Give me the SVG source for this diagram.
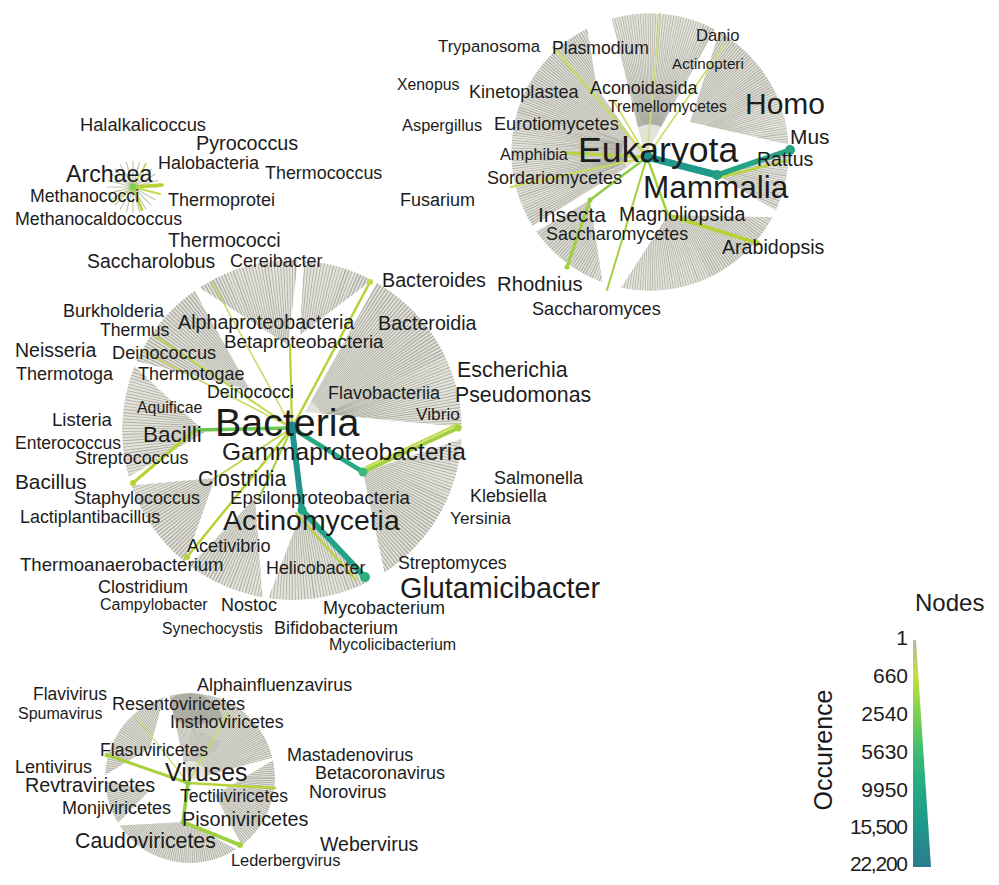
<svg xmlns="http://www.w3.org/2000/svg" width="999" height="885" viewBox="0 0 999 885">
<style>
text{font-family:"Liberation Sans",Arial,sans-serif;fill:#1c1c1c}
.fanfill{fill:#e3e3db}
.tex{fill:none;stroke:#adada3;stroke-dasharray:1.3 1.7}
.e{stroke-linecap:round;fill:none}
.sp{stroke:#c3c6ae;stroke-width:1.2;fill:none}
</style>
<defs>
<clipPath id="cB">
<path d="M250 390L136.7 360.9A170 170 0 0 1 194.5 290.7Z"/>
<path d="M288 345L199.4 287.4A170 170 0 0 1 297.9 260.1Z"/>
<path d="M300 335L303.9 260.4A170 170 0 0 1 371.8 279.9Z"/>
<path d="M305 412L377 282.8A170 170 0 0 1 462 427Z"/>
<path d="M363 472L461.8 438.9A170 170 0 0 1 384.6 572.6Z"/>
<path d="M302 510L369.2 581.5A170 170 0 0 1 268.3 598.4Z"/>
<path d="M255 498L262.5 597.4A170 170 0 0 1 189.7 565.8Z"/>
<path d="M215 478L185 562.1A170 170 0 0 1 131.3 485.4Z"/>
<path d="M205 432L128.6 476.9A170 170 0 0 1 134.4 366.3Z"/>
</clipPath>
<clipPath id="cE">
<path d="M645 156L511 152A139 139 0 0 1 564.4 42.5Z"/>
<path d="M600 108L564.4 42.5A139 139 0 0 1 587.2 28.2Z"/>
<path d="M645 156L611.7 18.4A139 139 0 0 1 715.3 29.3Z"/>
<path d="M690 122L719.5 31.6A139 139 0 0 1 788.8 144.7Z"/>
<path d="M717 175L789 152A139 139 0 0 1 776 210.7Z"/>
<path d="M668 215L772.7 217.3A139 139 0 0 1 620.8 288.0Z"/>
<path d="M590 200L602.5 282.6A139 139 0 0 1 536.1 231.7Z"/>
<path d="M645 156L532.1 225.7A139 139 0 0 1 511 152Z"/>
</clipPath>
<clipPath id="cV">
<path d="M150 748L105 775A85 85 0 0 1 163.7 697.2Z"/>
<path d="M188 781L169.4 695.5A85 85 0 0 1 272.5 757.4Z"/>
<path d="M215 795L273.1 760.3A85 85 0 0 1 242.0 845.4Z"/>
<path d="M185 822L236.3 849.2A85 85 0 0 1 119.1 825.5Z"/>
<path d="M150 790L117.9 823A85 85 0 0 1 105.1 781Z"/>
</clipPath>
<linearGradient id="leg" x1="0" y1="640" x2="0" y2="867" gradientUnits="userSpaceOnUse">
<stop offset="0" stop-color="#b8b8aa"/>
<stop offset="0.16" stop-color="#c6de3a"/>
<stop offset="0.33" stop-color="#7ad151"/>
<stop offset="0.5" stop-color="#3cbb75"/>
<stop offset="0.67" stop-color="#22a884"/>
<stop offset="0.83" stop-color="#1f968b"/>
<stop offset="1" stop-color="#2a7b8e"/>
</linearGradient>
</defs>
<g id="connectors">
<g id="fans-bacteria" clip-path="url(#cB)">
<circle class="fanfill" cx="292" cy="430" r="170"/>
<circle class="tex" cx="292" cy="430" r="102" stroke-width="136" pathLength="1000"/>
</g>
<g id="fans-eukaryota" clip-path="url(#cE)">
<circle class="fanfill" cx="650" cy="152" r="139"/>
<circle class="tex" cx="650" cy="152" r="83" stroke-width="111" pathLength="1000"/>
</g>
<g id="fans-viruses" clip-path="url(#cV)">
<circle class="fanfill" cx="190" cy="778" r="85"/>
<circle class="tex" cx="190" cy="778" r="51" stroke-width="68" pathLength="700"/>
</g>
<path class="sp" d="M133 187L159 187M133 187L158.1 193.7M133 187L155.5 200M133 187L151.4 205.4M133 187L146 209.5M133 187L139.7 212.1M133 187L133 213M133 187L126.3 212.1M133 187L120 209.5M133 187L114.6 205.4M133 187L110.5 200M133 187L107.9 193.7M133 187L107 187M133 187L107.9 180.3M133 187L110.5 174M133 187L114.6 168.6M133 187L120 164.5M133 187L126.3 161.9M133 187L133 161M133 187L139.7 161.9M133 187L146 164.5M133 187L151.4 168.6M133 187L155.5 174M133 187L158.1 180.3"/>
<line class="e" x1="133" y1="187" x2="162" y2="185" stroke="#b5d335" stroke-width="3.5"/>
<line class="e" x1="133" y1="187" x2="160" y2="194" stroke="#c2da4c" stroke-width="2"/>
<line class="e" x1="133" y1="187" x2="142" y2="210" stroke="#b5d335" stroke-width="2.5"/>
<line class="e" x1="133" y1="187" x2="112" y2="203" stroke="#c9dc5a" stroke-width="1.5"/>
<line class="e" x1="133" y1="187" x2="146" y2="163" stroke="#c9dc5a" stroke-width="1.5"/>
<line class="e" x1="647" y1="157" x2="660" y2="13" stroke="#d2df78" stroke-width="1.5"/>
<line class="e" x1="647" y1="157" x2="724" y2="45" stroke="#cbdc60" stroke-width="1.5"/>
<line class="e" x1="647" y1="157" x2="613" y2="100" stroke="#cbdc60" stroke-width="1.5"/>
<line class="e" x1="647" y1="157" x2="553" y2="47" stroke="#c9dc5a" stroke-width="2"/>
<line class="e" x1="647" y1="157" x2="511" y2="187" stroke="#c9dc5a" stroke-width="2"/>
<line class="e" x1="647" y1="157" x2="567" y2="153" stroke="#b8d440" stroke-width="3"/>
<line class="e" x1="647" y1="157" x2="607" y2="290" stroke="#a5d23a" stroke-width="2"/>
<line class="e" x1="647" y1="157" x2="590" y2="200" stroke="#8ccd45" stroke-width="2.5"/>
<line class="e" x1="590" y1="200" x2="567" y2="267" stroke="#a0d040" stroke-width="3"/>
<line class="e" x1="647" y1="157" x2="668" y2="215" stroke="#a6d23c" stroke-width="2.5"/>
<line class="e" x1="668" y1="215" x2="757" y2="243" stroke="#b5d335" stroke-width="3.5"/>
<line class="e" x1="717" y1="178" x2="789" y2="160" stroke="#b9d53a" stroke-width="2.5"/>
<line class="e" x1="647" y1="157" x2="717" y2="175" stroke="#1f9a8a" stroke-width="7"/>
<line class="e" x1="717" y1="175" x2="790" y2="150" stroke="#26a284" stroke-width="5.5"/>
<line class="e" x1="292" y1="428" x2="212" y2="282" stroke="#cad95c" stroke-width="1.5"/>
<line class="e" x1="292" y1="428" x2="157" y2="337" stroke="#c0d84a" stroke-width="2"/>
<line class="e" x1="292" y1="428" x2="145" y2="352" stroke="#cad95c" stroke-width="1.5"/>
<line class="e" x1="292" y1="428" x2="290" y2="345" stroke="#b5d335" stroke-width="2.2"/>
<line class="e" x1="292" y1="428" x2="370" y2="282" stroke="#b5d335" stroke-width="2.5"/>
<line class="e" x1="292" y1="428" x2="187" y2="557" stroke="#b5d335" stroke-width="2.5"/>
<line class="e" x1="292" y1="428" x2="258" y2="500" stroke="#a6d23c" stroke-width="2"/>
<line class="e" x1="292" y1="428" x2="215" y2="478" stroke="#c0d84a" stroke-width="2"/>
<line class="e" x1="195" y1="430" x2="133" y2="483" stroke="#b5d335" stroke-width="3"/>
<line class="e" x1="292" y1="428" x2="195" y2="430" stroke="#6cc64e" stroke-width="3.5"/>
<line class="e" x1="366" y1="467" x2="458" y2="424" stroke="#c2da4c" stroke-width="2"/>
<line class="e" x1="363" y1="472" x2="458" y2="428" stroke="#a3d13e" stroke-width="4"/>
<line class="e" x1="296" y1="513" x2="356" y2="580" stroke="#b5d335" stroke-width="2"/>
<line class="e" x1="292" y1="428" x2="363" y2="472" stroke="#27a884" stroke-width="4.5"/>
<line class="e" x1="302" y1="510" x2="365" y2="577" stroke="#22a386" stroke-width="5.5"/>
<line class="e" x1="292" y1="428" x2="302" y2="510" stroke="#1f968b" stroke-width="6"/>
<line class="e" x1="188" y1="783" x2="228" y2="713" stroke="#cbdc60" stroke-width="1.5"/>
<line class="e" x1="188" y1="783" x2="135" y2="715" stroke="#cbdc60" stroke-width="1.2"/>
<line class="e" x1="188" y1="783" x2="107" y2="755" stroke="#a8d23c" stroke-width="3"/>
<line class="e" x1="188" y1="783" x2="275" y2="788" stroke="#b5d335" stroke-width="2.5"/>
<line class="e" x1="183" y1="822" x2="240" y2="845" stroke="#9fd040" stroke-width="4"/>
<line class="e" x1="188" y1="783" x2="183" y2="822" stroke="#8ccd45" stroke-width="3.5"/>
</g>
<g id="node-dots">
<circle cx="133" cy="187" r="3.5" fill="#7ccf52"/>
<circle cx="757" cy="243" r="3" fill="#b5d335"/>
<circle cx="590" cy="200" r="2.5" fill="#8ccd45"/>
<circle cx="567" cy="267" r="2.5" fill="#a0d040"/>
<circle cx="370" cy="282" r="3" fill="#c0da4a"/>
<circle cx="133" cy="483" r="3" fill="#b5d335"/>
<circle cx="187" cy="557" r="3" fill="#b5d335"/>
<circle cx="458" cy="428" r="3.5" fill="#a8d23c"/>
<circle cx="363" cy="472" r="4.5" fill="#3bb77a"/>
<circle cx="302" cy="510" r="4.5" fill="#20a386"/>
<circle cx="365" cy="577" r="5" fill="#2bb07f"/>
<circle cx="107" cy="755" r="2.5" fill="#a8d23c"/>
<circle cx="240" cy="845" r="3" fill="#a8d23c"/>
<circle cx="183" cy="822" r="2.5" fill="#8ccd45"/>
</g>
<g id="Eukaryota"><circle cx="647" cy="157" r="6" fill="#1f8f8c"/><text x="578" y="162" font-size="35.6">Eukaryota</text></g>
<g id="Mammalia"><circle cx="717" cy="175" r="5" fill="#22a084"/><text x="643" y="198" font-size="31.5">Mammalia</text></g>
<g id="Mus"><circle cx="790" cy="150" r="5" fill="#27a383"/><text x="790" y="144" font-size="20.9">Mus</text></g>
<g id="Trypanosoma"><text x="438" y="52" font-size="16.8">Trypanosoma</text></g>
<g id="Plasmodium"><text x="552" y="54" font-size="17.6">Plasmodium</text></g>
<g id="Danio"><text x="696" y="41" font-size="16.6">Danio</text></g>
<g id="Actinopteri"><text x="672" y="69" font-size="15.2">Actinopteri</text></g>
<g id="Xenopus"><text x="397" y="90" font-size="15.8">Xenopus</text></g>
<g id="Kinetoplastea"><text x="469" y="98" font-size="18.1">Kinetoplastea</text></g>
<g id="Aconoidasida"><text x="590" y="94" font-size="17.9">Aconoidasida</text></g>
<g id="Tremellomycetes"><text x="608" y="112" font-size="15.7">Tremellomycetes</text></g>
<g id="Homo"><text x="745" y="114" font-size="30">Homo</text></g>
<g id="Aspergillus"><text x="402" y="131" font-size="16.4">Aspergillus</text></g>
<g id="Eurotiomycetes"><text x="494" y="130" font-size="18.1">Eurotiomycetes</text></g>
<g id="Amphibia"><text x="500" y="160" font-size="16.3">Amphibia</text></g>
<g id="Rattus"><text x="757" y="166" font-size="19.5">Rattus</text></g>
<g id="Sordariomycetes"><text x="487" y="184" font-size="18">Sordariomycetes</text></g>
<g id="Fusarium"><text x="400" y="206" font-size="18">Fusarium</text></g>
<g id="Insecta"><text x="538" y="222" font-size="21.1">Insecta</text></g>
<g id="Magnoliopsida"><text x="619" y="221" font-size="19.6">Magnoliopsida</text></g>
<g id="Saccharomycetes"><text x="546" y="240" font-size="17.9">Saccharomycetes</text></g>
<g id="Arabidopsis"><text x="722" y="254" font-size="19.6">Arabidopsis</text></g>
<g id="Rhodnius"><text x="497" y="291" font-size="20.3">Rhodnius</text></g>
<g id="Saccharomyces"><text x="532" y="315" font-size="18.1">Saccharomyces</text></g>
<g id="Halalkalicoccus"><text x="80" y="131" font-size="18.3">Halalkalicoccus</text></g>
<g id="Pyrococcus"><text x="196" y="150" font-size="19.8">Pyrococcus</text></g>
<g id="Archaea"><text x="66" y="182" font-size="23.2">Archaea</text></g>
<g id="Halobacteria"><text x="158" y="169" font-size="18">Halobacteria</text></g>
<g id="Thermococcus"><text x="265" y="179" font-size="17.9">Thermococcus</text></g>
<g id="Methanococci"><text x="30" y="202" font-size="17.7">Methanococci</text></g>
<g id="Thermoprotei"><text x="168" y="206" font-size="18">Thermoprotei</text></g>
<g id="Methanocaldococcus"><text x="15" y="225" font-size="17.8">Methanocaldococcus</text></g>
<g id="Thermococci"><text x="168" y="247" font-size="19.7">Thermococci</text></g>
<g id="Saccharolobus"><text x="87" y="268" font-size="19.4">Saccharolobus</text></g>
<g id="Cereibacter"><text x="230" y="267" font-size="17.9">Cereibacter</text></g>
<g id="Bacteria"><circle cx="292" cy="428" r="6.5" fill="#1f8a8c"/><text x="215" y="436" font-size="39.4">Bacteria</text></g>
<g id="Bacteroides"><text x="382" y="287" font-size="19.7">Bacteroides</text></g>
<g id="Burkholderia"><text x="63" y="317" font-size="18">Burkholderia</text></g>
<g id="Thermus"><text x="100" y="336" font-size="17.6">Thermus</text></g>
<g id="Alphaproteobacteria"><text x="178" y="329" font-size="19.7">Alphaproteobacteria</text></g>
<g id="Bacteroidia"><text x="378" y="330" font-size="19.7">Bacteroidia</text></g>
<g id="Betaproteobacteria"><text x="224" y="348" font-size="18.9">Betaproteobacteria</text></g>
<g id="Neisseria"><text x="15" y="357" font-size="19.5">Neisseria</text></g>
<g id="Deinococcus"><text x="112" y="359" font-size="18.2">Deinococcus</text></g>
<g id="Thermotoga"><text x="16" y="380" font-size="18">Thermotoga</text></g>
<g id="Thermotogae"><text x="138" y="380" font-size="17.9">Thermotogae</text></g>
<g id="Escherichia"><text x="457" y="377" font-size="21.4">Escherichia</text></g>
<g id="Deinococci"><text x="207" y="398" font-size="17.8">Deinococci</text></g>
<g id="Flavobacteriia"><text x="328" y="399" font-size="18">Flavobacteriia</text></g>
<g id="Pseudomonas"><text x="455" y="402" font-size="21.3">Pseudomonas</text></g>
<g id="Aquificae"><text x="137" y="413" font-size="15.9">Aquificae</text></g>
<g id="Listeria"><text x="52" y="426" font-size="18.6">Listeria</text></g>
<g id="Vibrio"><text x="416" y="420" font-size="17.3">Vibrio</text></g>
<g id="Bacilli"><text x="143" y="442" font-size="22.5">Bacilli</text></g>
<g id="Enterococcus"><text x="15" y="449" font-size="17.5">Enterococcus</text></g>
<g id="Gammaproteobacteria"><text x="222" y="460" font-size="24.5">Gammaproteobacteria</text></g>
<g id="Streptococcus"><text x="75" y="464" font-size="17.9">Streptococcus</text></g>
<g id="Salmonella"><text x="494" y="484" font-size="18">Salmonella</text></g>
<g id="Clostridia"><text x="198" y="486" font-size="21.2">Clostridia</text></g>
<g id="Bacillus"><text x="15" y="489" font-size="20.8">Bacillus</text></g>
<g id="Staphylococcus"><text x="74" y="504" font-size="18">Staphylococcus</text></g>
<g id="Epsilonproteobacteria"><text x="230" y="504" font-size="18.6">Epsilonproteobacteria</text></g>
<g id="Klebsiella"><text x="470" y="502" font-size="17.9">Klebsiella</text></g>
<g id="Lactiplantibacillus"><text x="20" y="523" font-size="17.9">Lactiplantibacillus</text></g>
<g id="Actinomycetia"><text x="223" y="530" font-size="28.4">Actinomycetia</text></g>
<g id="Yersinia"><text x="450" y="524" font-size="17.3">Yersinia</text></g>
<g id="Acetivibrio"><text x="187" y="552" font-size="18.1">Acetivibrio</text></g>
<g id="Thermoanaerobacterium"><text x="20" y="571" font-size="18.6">Thermoanaerobacterium</text></g>
<g id="Helicobacter"><text x="266" y="574" font-size="17.9">Helicobacter</text></g>
<g id="Streptomyces"><text x="398" y="569" font-size="17.8">Streptomyces</text></g>
<g id="Glutamicibacter"><text x="400" y="598" font-size="28.8">Glutamicibacter</text></g>
<g id="Clostridium"><text x="98" y="593" font-size="18">Clostridium</text></g>
<g id="Campylobacter"><text x="100" y="610" font-size="16">Campylobacter</text></g>
<g id="Nostoc"><text x="221" y="611" font-size="18">Nostoc</text></g>
<g id="Mycobacterium"><text x="323" y="614" font-size="18">Mycobacterium</text></g>
<g id="Synechocystis"><text x="162" y="634" font-size="15.8">Synechocystis</text></g>
<g id="Bifidobacterium"><text x="274" y="634" font-size="18">Bifidobacterium</text></g>
<g id="Mycolicibacterium"><text x="329" y="650" font-size="16">Mycolicibacterium</text></g>
<g id="Viruses"><circle cx="188" cy="783" r="3" fill="#8ccd45"/><text x="165" y="781" font-size="24.9">Viruses</text></g>
<g id="Alphainfluenzavirus"><text x="197" y="691" font-size="17.9">Alphainfluenzavirus</text></g>
<g id="Flavivirus"><text x="33" y="700" font-size="17.5">Flavivirus</text></g>
<g id="Resentoviricetes"><text x="112" y="710" font-size="18">Resentoviricetes</text></g>
<g id="Spumavirus"><text x="18" y="719" font-size="16">Spumavirus</text></g>
<g id="Insthoviricetes"><text x="170" y="728" font-size="17.8">Insthoviricetes</text></g>
<g id="Flasuviricetes"><text x="100" y="756" font-size="17.7">Flasuviricetes</text></g>
<g id="Mastadenovirus"><text x="287" y="761" font-size="17.9">Mastadenovirus</text></g>
<g id="Lentivirus"><text x="15" y="773" font-size="18">Lentivirus</text></g>
<g id="Betacoronavirus"><text x="315" y="779" font-size="18">Betacoronavirus</text></g>
<g id="Revtraviricetes"><text x="25" y="792" font-size="19.7">Revtraviricetes</text></g>
<g id="Norovirus"><text x="309" y="798" font-size="18.1">Norovirus</text></g>
<g id="Tectiliviricetes"><text x="180" y="802" font-size="17.5">Tectiliviricetes</text></g>
<g id="Monjiviricetes"><text x="62" y="814" font-size="18">Monjiviricetes</text></g>
<g id="Pisoniviricetes"><text x="182" y="826" font-size="19.8">Pisoniviricetes</text></g>
<g id="Caudoviricetes"><text x="75" y="848" font-size="21.3">Caudoviricetes</text></g>
<g id="Webervirus"><text x="320" y="851" font-size="19.5">Webervirus</text></g>
<g id="Lederbergvirus"><text x="231" y="866" font-size="16.4">Lederbergvirus</text></g>
<g id="legend">
<text x="915" y="611" font-size="24">Nodes</text>
<text transform="translate(832 750) rotate(-90)" text-anchor="middle" font-size="25">Occurence</text>
<polygon points="913,640 916,640 931,867 913,867" fill="url(#leg)"/>
<g font-size="21">
<text x="908" y="645" text-anchor="end">1</text>
<text x="908" y="683" text-anchor="end">660</text>
<text x="908" y="721" text-anchor="end">2540</text>
<text x="908" y="759" text-anchor="end">5630</text>
<text x="908" y="797" text-anchor="end">9950</text>
<text x="850" y="834" textLength="58" lengthAdjust="spacing">15,500</text>
<text x="850" y="871" textLength="58" lengthAdjust="spacing">22,200</text>
</g>
</g>
</svg>
